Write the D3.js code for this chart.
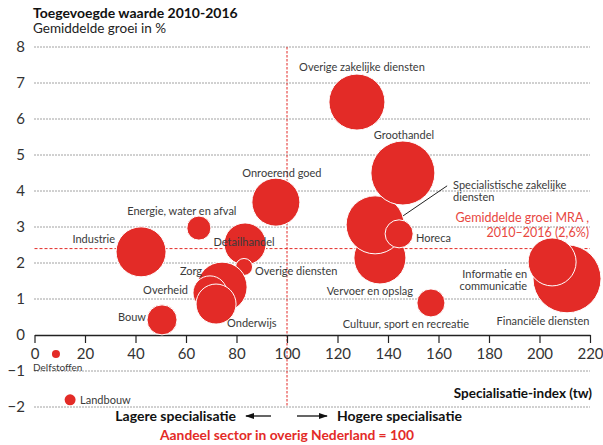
<!DOCTYPE html>
<html>
<head>
<meta charset="utf-8">
<script src="https://cdn.jsdelivr.net/npm/d3@7"></script>
<style>
  body { margin: 0; background: #fff; }
  svg { display: block; font-family: Lato, "Open Sans", sans-serif; }
</style>
</head>
<body>
<div id="chart"></div>
<script>
// sectoren, in tekenvolgorde (onderste eerst)
const sectors = ['Vervoer en opslag', 'Specialistische zakelijke diensten', 'Groothandel', 'Horeca',
  'Overige zakelijke diensten', 'Cultuur, sport en recreatie', 'Financiële diensten', 'Informatie en communicatie',
  'Onroerend goed', 'Energie, water en afval', 'Industrie', 'Detailhandel', 'Overige diensten', 'Zorg',
  'Overheid', 'Onderwijs', 'Bouw', 'Delfstoffen', 'Landbouw'];
// specialisatie-index (aandeel overig Nederland = 100)
const specIndex = [136.8, 134.9, 145.9, 144.4, 127.7, 157, 210.9, 205, 95.6, 65.1, 42.2, 83.4, 83, 74.3, 69.5, 71.9, 50.5, 8.5, 14.1];
// gemiddelde groei 2010-2016 in %
const growth = [2.14, 3.06, 4.5, 2.81, 6.47, 0.89, 1.56, 2.03, 3.69, 2.97, 2.31, 2.53, 1.89, 1.33, 1.17, 0.86, 0.42, -0.53, -1.8];
// omvang (bubbelgrootte)
const sizes = [58.5, 72.8, 88.6, 17, 67.8, 17, 100, 49.8, 49.8, 12.5, 54, 38, 6.25, 54, 25, 34.6, 19.5, 1.4, 2.6];

const xTicks = d3.range(0, 221, 20);
const yTicks = [-2, -1, 1, 2, 3, 4, 5, 6, 7, 8];
const mraLine = 2.4;

// label placement relative to bubble centre
const labelPos = {
  'Vervoer en opslag': [-10, 37, 'middle'],
  'Specialistische zakelijke diensten': [78, -36, 'start'],
  'Groothandel': [1, -34, 'middle'],
  'Horeca': [17, 8, 'start'],
  'Overige zakelijke diensten': [5, -31, 'middle'],
  'Cultuur, sport en recreatie': [-25, 25, 'middle'],
  'Financiële diensten': [-24, 46, 'middle'],
  'Informatie en communicatie': [-25, 16, 'end'],
  'Onroerend goed': [6, -25, 'middle'],
  'Energie, water en afval': [-17, -13, 'middle'],
  'Industrie': [-26, -9, 'end'],
  'Detailhandel': [-1, 2, 'middle'],
  'Overige diensten': [11, 8, 'start'],
  'Zorg': [-20, -12, 'end'],
  'Overheid': [-22, 1, 'end'],
  'Onderwijs': [11, 23, 'start'],
  'Bouw': [-16, 1, 'end'],
  'Delfstoffen': [-23, 17, 'start'],
  'Landbouw': [10, 4, 'start']
};
const twoLines = {
  'Specialistische zakelijke diensten': ['Specialistische zakelijke', 'diensten'],
  'Informatie en communicatie': ['Informatie en', 'communicatie']
};

const RED = '#e32b27';
const W = 603, H = 445;

const svg = d3.select('#chart').append('svg').attr('width', W).attr('height', H);

const x = d3.scaleLinear().domain([0, 220]).range([34.5, 590]);
const y = d3.scaleLinear().domain([-2, 8]).range([407, 47]);
const r = d3.scaleSqrt().domain([0, 100]).range([0, 34]);

// titel
svg.append('text').attr('x', 33).attr('y', 18).text('Toegevoegde waarde 2010-2016')
  .attr('font-size', 14).attr('font-weight', 700).attr('fill', '#111');
svg.append('text').attr('x', 33).attr('y', 33).text('Gemiddelde groei in %')
  .attr('font-size', 13.5).attr('fill', '#222');

// gridlijnen
svg.append('g').selectAll('line').data(yTicks).enter().append('line')
  .attr('x1', x(0)).attr('x2', x(220))
  .attr('y1', d => y(d)).attr('y2', d => y(d))
  .attr('stroke', '#444').attr('stroke-width', 1).attr('stroke-dasharray', '1,2');

// y labels
svg.append('g').selectAll('text').data(yTicks.concat([0])).enter().append('text')
  .attr('x', 25).attr('y', d => y(d)).attr('dy', '0.36em')
  .attr('text-anchor', 'end').attr('font-size', 15).attr('fill', '#333')
  .text(d => d < 0 ? '\u2212' + Math.abs(d) : d);

// rode referentielijnen
svg.append('line').attr('x1', x(0)).attr('x2', x(220)).attr('y1', y(mraLine)).attr('y2', y(mraLine))
  .attr('stroke', RED).attr('stroke-width', 1).attr('stroke-dasharray', '3,2');
svg.append('line').attr('x1', x(100)).attr('x2', x(100)).attr('y1', y(8)).attr('y2', y(-2))
  .attr('stroke', RED).attr('stroke-width', 1).attr('stroke-dasharray', '2.5,1.5');

// x-as
const xAxis = svg.append('g').attr('transform', `translate(0,${y(0)})`)
  .call(d3.axisBottom(x).tickValues(xTicks).tickSize(8).tickSizeOuter(0).tickPadding(5));
xAxis.select('.domain').attr('stroke', '#222').attr('stroke-width', 1.3);
xAxis.selectAll('.tick line').attr('stroke', '#222').attr('stroke-width', 1.2);
xAxis.selectAll('.tick text').attr('font-size', 15).attr('fill', '#333')
  .attr('font-family', 'Lato, sans-serif');

// bubbels
const data = sectors.map((s, i) => ({ name: s, x: specIndex[i], y: growth[i], size: sizes[i] }));

svg.append('g').selectAll('circle').data(data).enter().append('circle')
  .attr('cx', d => x(d.x)).attr('cy', d => y(d.y)).attr('r', d => r(d.size))
  .attr('fill', RED).attr('stroke', '#fff').attr('stroke-width', d => d.size > 5 ? 1 : 0);

// leader lijn specialistische zakelijke diensten
const spec = data[1];
svg.append('line')
  .attr('x1', x(spec.x) + 72).attr('y1', y(spec.y) - 39)
  .attr('x2', x(spec.x) + 28).attr('y2', y(spec.y) - 9)
  .attr('stroke', '#222').attr('stroke-width', 1);

// labels
const labels = svg.append('g').selectAll('text').data(data).enter().append('text')
  .attr('x', d => x(d.x) + labelPos[d.name][0])
  .attr('y', d => y(d.y) + labelPos[d.name][1])
  .attr('text-anchor', d => labelPos[d.name][2])
  .attr('font-size', d => d.name === 'Delfstoffen' ? 10 : 11)
  .attr('fill', '#3a3a3a');
labels.each(function (d) {
  const lines = twoLines[d.name] || [d.name];
  const t = d3.select(this);
  lines.forEach((l, i) => {
    t.append('tspan').attr('x', t.attr('x')).attr('dy', i === 0 ? 0 : 12.5).text(l);
  });
});

// MRA label
svg.append('text').attr('x', 589).attr('y', 222).attr('text-anchor', 'end')
  .attr('font-size', 12.5).attr('fill', '#e8473f').text('Gemiddelde groei MRA ,');
svg.append('text').attr('x', 589).attr('y', 237).attr('text-anchor', 'end')
  .attr('font-size', 12.5).attr('fill', '#e8473f').text('2010–2016 (2,6%)');

// as titels onderaan
svg.append('text').attr('x', 592).attr('y', 398).attr('text-anchor', 'end')
  .attr('font-size', 13.5).attr('font-weight', 700).attr('fill', '#111').text('Specialisatie-index (tw)');
svg.append('text').attr('x', 236).attr('y', 421).attr('text-anchor', 'end')
  .attr('font-size', 14).attr('font-weight', 700).attr('fill', '#111').text('Lagere specialisatie');
svg.append('text').attr('x', 337).attr('y', 421).attr('text-anchor', 'start')
  .attr('font-size', 14).attr('font-weight', 700).attr('fill', '#111').text('Hogere specialisatie');
svg.append('text').attr('x', x(100)).attr('y', 440).attr('text-anchor', 'middle')
  .attr('font-size', 13.8).attr('font-weight', 700).attr('fill', RED).text('Aandeel sector in overig Nederland = 100');

// pijlen
svg.append('defs').append('marker').attr('id', 'arrow')
  .attr('viewBox', '0 0 10 10').attr('refX', 9).attr('refY', 5)
  .attr('markerWidth', 7).attr('markerHeight', 7).attr('orient', 'auto-start-reverse')
  .append('path').attr('d', 'M0,1.5L10,5L0,8.5Z').attr('fill', '#111');
svg.append('line').attr('x1', 271).attr('x2', 246).attr('y1', 416).attr('y2', 416)
  .attr('stroke', '#111').attr('stroke-width', 1.3).attr('marker-end', 'url(#arrow)');
svg.append('line').attr('x1', 297).attr('x2', 327).attr('y1', 416).attr('y2', 416)
  .attr('stroke', '#111').attr('stroke-width', 1.3).attr('marker-end', 'url(#arrow)');
</script>
</body>
</html>
